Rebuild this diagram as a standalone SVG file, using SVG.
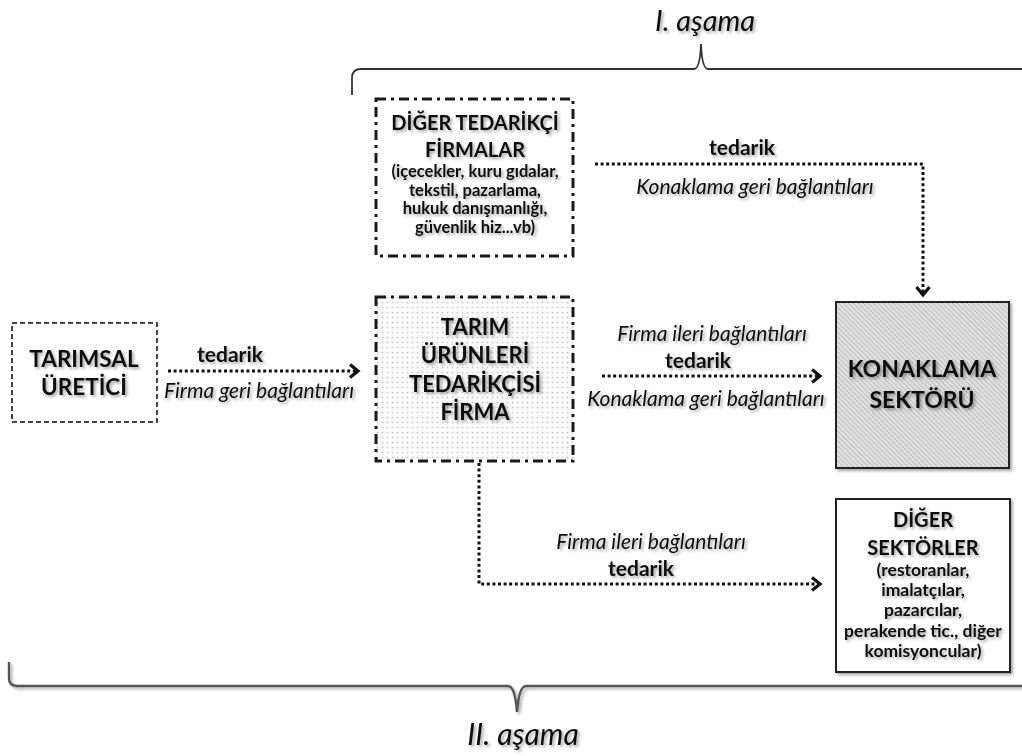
<svg xmlns="http://www.w3.org/2000/svg" width="1022" height="756" viewBox="0 0 1022 756">
  <defs>
    <!-- soft drop shadow used under text and boxes -->
    <filter id="shadow" x="-10%" y="-20%" width="130%" height="150%">
      <feDropShadow dx="2" dy="2" stdDeviation="1.5" flood-color="#000" flood-opacity="0.35"/>
    </filter>
    <!-- fine diagonal hatching for the accommodation sector -->
    <pattern id="hatch" width="3.5" height="3.5" patternUnits="userSpaceOnUse" patternTransform="rotate(-45)">
      <rect width="3.5" height="3.5" fill="#dedede"/>
      <line x1="0" y1="0" x2="0" y2="3.5" stroke="#a4a4a4" stroke-width="1"/>
    </pattern>
    <!-- light dot grid for the supplier firm -->
    <pattern id="dots" width="5" height="5" patternUnits="userSpaceOnUse">
      <rect width="5" height="5" fill="#fafafa"/>
      <circle cx="2.5" cy="2.5" r="0.85" fill="#c4c4c4"/>
    </pattern>
    <marker id="chev" markerUnits="userSpaceOnUse" markerWidth="16" markerHeight="18" refX="10" refY="8" orient="auto">
      <path d="M2,1.5 L10,8 L2,14.5" fill="none" stroke="#111" stroke-width="3.2" stroke-linejoin="miter"/>
    </marker>
    <style>
      .t { font-family: Lato, "Liberation Sans", sans-serif; fill: #111; text-anchor: middle; }
      .b { font-weight: 700; }
      .i { font-style: italic; font-weight: 400; }
      .sh { filter: url(#shadow); }
      .dashdot { fill: none; stroke: #1a1a1a; stroke-width: 3; stroke-dasharray: 10 5 3 5; }
      .conn { fill: none; stroke: #111; stroke-width: 3; stroke-dasharray: 3 2.6; }
      .brace { fill: none; stroke: #333; stroke-width: 1.8; }
      .lbl { font-size: 21px; }
      .ted { font-size: 21px; }
    </style>
  </defs>

  <rect width="1022" height="756" fill="#fff"/>

  <!-- stage I brace and title -->
  <g id="stage1">
    <path class="brace" d="M352,95 L352,78 Q352,69 361,69 L694,69 Q700,69 701,44 Q702,69 708,69 L1022,69"/>
    <text class="t i sh" x="705" y="31" font-size="29">I. aşama</text>
  </g>

  <!-- stage II brace and title -->
  <g id="stage2">
    <path class="brace sh" style="stroke:#555;stroke-width:2.4" d="M9,662 L9,678 Q9,686 17,686 L508,686 Q515,686 517,712 Q519,686 526,686 L1022,686"/>
    <text class="t i sh" x="523" y="745" font-size="30">II. aşama</text>
  </g>

  <!-- connectors -->
  <g id="connectors">
    <path class="conn" d="M168,371 L358,371" marker-end="url(#chev)"/>
    <path class="conn" d="M595,164 L923,164 L923,295" marker-end="url(#chev)"/>
    <path class="conn" d="M602,376 L820,376" marker-end="url(#chev)"/>
    <path class="conn" d="M479,463 L479,584 L820,584" marker-end="url(#chev)"/>

    <text class="t b sh ted" x="230" y="362">tedarik</text>
    <text class="t i sh lbl" x="259" y="398">Firma geri bağlantıları</text>

    <text class="t b sh ted" x="742" y="155">tedarik</text>
    <text class="t i sh lbl" x="755" y="194">Konaklama geri bağlantıları</text>

    <text class="t i sh lbl" x="712" y="341">Firma ileri bağlantıları</text>
    <text class="t b sh ted" x="698" y="368">tedarik</text>
    <text class="t i sh lbl" x="706" y="406">Konaklama geri bağlantıları</text>

    <text class="t i sh lbl" x="651" y="549">Firma ileri bağlantıları</text>
    <text class="t b sh ted" x="641" y="576">tedarik</text>
  </g>

  <!-- agricultural producer -->
  <g id="tarimsal-uretici">
    <rect x="12" y="323" width="145" height="99" fill="#fff" stroke="#444" stroke-width="2" stroke-dasharray="5 3"/>
    <text class="t b sh" x="84" y="367" font-size="22.5">TARIMSAL</text>
    <text class="t b sh" x="84" y="395" font-size="22.5">ÜRETİCİ</text>
  </g>

  <!-- other supplier firms -->
  <g id="diger-tedarikci">
    <rect class="dashdot" x="376" y="99" width="197" height="157" fill="#fff"/>
    <text class="t b sh" x="475" y="130" font-size="20">DİĞER TEDARİKÇİ</text>
    <text class="t b sh" x="475" y="157" font-size="20">FİRMALAR</text>
    <text class="t b sh" x="475" y="177" font-size="16.5">(içecekler, kuru gıdalar,</text>
    <text class="t b sh" x="475" y="196" font-size="16.5">tekstil, pazarlama,</text>
    <text class="t b sh" x="475" y="214" font-size="16.5">hukuk danışmanlığı,</text>
    <text class="t b sh" x="475" y="233" font-size="16.5">güvenlik hiz...vb)</text>
  </g>

  <!-- agricultural products supplier firm -->
  <g id="tarim-urunleri">
    <rect x="376" y="297" width="197" height="164" fill="url(#dots)"/>
    <rect class="dashdot" x="376" y="297" width="197" height="164"/>
    <text class="t b sh" x="475" y="335" font-size="22">TARIM</text>
    <text class="t b sh" x="475" y="363" font-size="22">ÜRÜNLERİ</text>
    <text class="t b sh" x="475" y="392" font-size="22">TEDARİKÇİSİ</text>
    <text class="t b sh" x="475" y="420" font-size="22">FİRMA</text>
  </g>

  <!-- accommodation sector -->
  <g id="konaklama">
    <rect class="sh" x="836" y="302" width="173" height="166" fill="url(#hatch)" stroke="#222" stroke-width="2"/>
    <text class="t b sh" x="922" y="377" font-size="23">KONAKLAMA</text>
    <text class="t b sh" x="922" y="408" font-size="23">SEKTÖRÜ</text>
  </g>

  <!-- other sectors -->
  <g id="diger-sektorler">
    <rect class="sh" x="836" y="499" width="174" height="173" fill="#fff" stroke="#222" stroke-width="2"/>
    <text class="t b sh" x="923" y="527" font-size="20">DİĞER</text>
    <text class="t b sh" x="923" y="555" font-size="20">SEKTÖRLER</text>
    <text class="t b sh" x="923" y="576" font-size="17.5">(restoranlar,</text>
    <text class="t b sh" x="923" y="596" font-size="17.5">imalatçılar,</text>
    <text class="t b sh" x="923" y="616" font-size="17.5">pazarcılar,</text>
    <text class="t b sh" x="923" y="637" font-size="17.5">perakende tic., diğer</text>
    <text class="t b sh" x="923" y="657" font-size="17.5">komisyoncular)</text>
  </g>
</svg>
